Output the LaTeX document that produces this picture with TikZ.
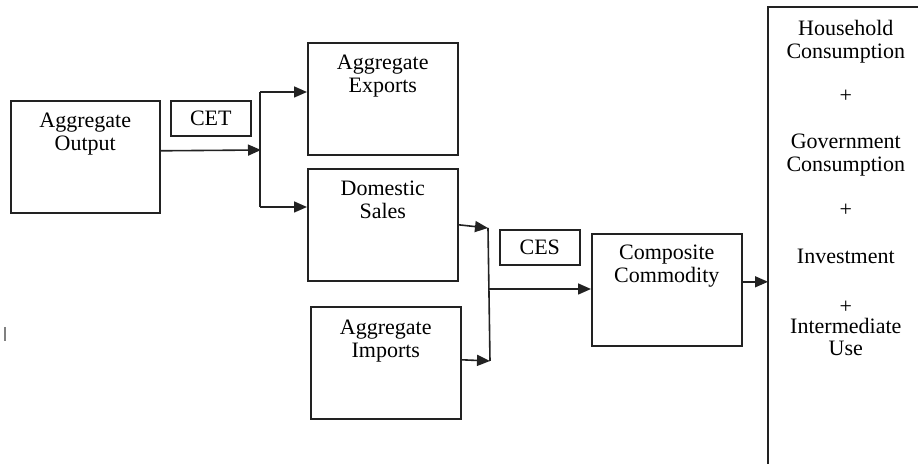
\documentclass[tikz,border=0pt]{standalone}
\usepackage{fontspec}
\setmainfont{Liberation Serif}
\usetikzlibrary{arrows.meta,positioning}
\definecolor{Ink}{HTML}{222222}
\tikzset{
  blk/.style={draw=Ink,line width=0.8pt,minimum width=75pt,minimum height=56pt,
    anchor=north west,inner sep=0pt},
  tag/.style={draw=Ink,line width=0.8pt,minimum width=40pt,minimum height=17.5pt,
    anchor=north west,inner sep=0pt,font=\fontsize{11}{11.5}\selectfont},
  lbl/.style={align=center,inner sep=0pt,anchor=north,
    font=\fontsize{11}{11.5}\selectfont},
  ln/.style={draw=Ink,line width=0.8pt},
  arr/.style={ln,-{Triangle[length=6.5pt,width=5.5pt]}}
}

\begin{document}
\begin{tikzpicture}[x=0.5pt,y=-0.5pt]
  \path[use as bounding box,clip] (0,0) rectangle (918,464);

  \node[blk,minimum width=74.5pt] (outbox) at (10,100) {};
  \node[lbl,below=6.5pt of outbox.north] (outtxt) {Aggregate\\Output};
  \node[tag] (cet) at (170,100) {CET};

  \node[blk] (expbox) at (307,42) {};
  \node[lbl,below=6.5pt of expbox.north] (exptxt) {Aggregate\\Exports};
  \node[blk] (salesbox) at (307,168) {};
  \node[lbl,below=6.5pt of salesbox.north] (salestxt) {Domestic\\Sales};
  \node[blk] (impbox) at (310,306) {};
  \node[lbl,below=7pt of impbox.north] (imptxt) {Aggregate\\Imports};

  \node[tag] (ces) at (499,229) {CES};
  \node[blk] (combox) at (591,233) {};
  \node[lbl,below=6pt of combox.north] (comtxt) {Composite\\Commodity};

  \node[blk,draw=none,minimum width=77pt,minimum height=235pt] (usebox) at (768,7) {};
  \draw[ln] (usebox.south west) -- (usebox.north west) -- (usebox.north east);
  \node[lbl,below=6.5pt of usebox.north] (usetxt) {Household\\Consumption\\[10.5pt]
    +\\[11.5pt]Government\\Consumption\\[11pt]+\\[12pt]Investment\\[13.5pt]
    +\\[-1.5pt]Intermediate\\[-0.5pt]Use};

  \coordinate (splitT) at (260,92);
  \coordinate (splitM) at (261,150);
  \coordinate (splitB) at (260,207);
  \draw[arr] ([yshift=3pt]outbox.east) -- (splitM);
  \draw[ln] (splitT) -- (splitB);
  \draw[arr] (splitT) -- (splitT -| expbox.west);
  \draw[arr] (splitB) -- (splitB -| salesbox.west);

  \coordinate (mergeT) at (488,228);
  \coordinate (mergeM) at (489,289);
  \coordinate (mergeB) at (490,361);
  \draw[arr] (salesbox.east) -- (mergeT);
  \draw[arr] ([yshift=1.5pt]impbox.east) -- (mergeB);
  \draw[ln] (mergeT) -- (mergeB);
  \draw[arr] (mergeM) -- (mergeM -| combox.west);
  \draw[arr] ([yshift=4pt]combox.east) -- ([yshift=4pt]combox.east -| usebox.west);

  \draw[gray,line width=0.6pt] (5,327) -- (5,341);
\end{tikzpicture}
\end{document}
